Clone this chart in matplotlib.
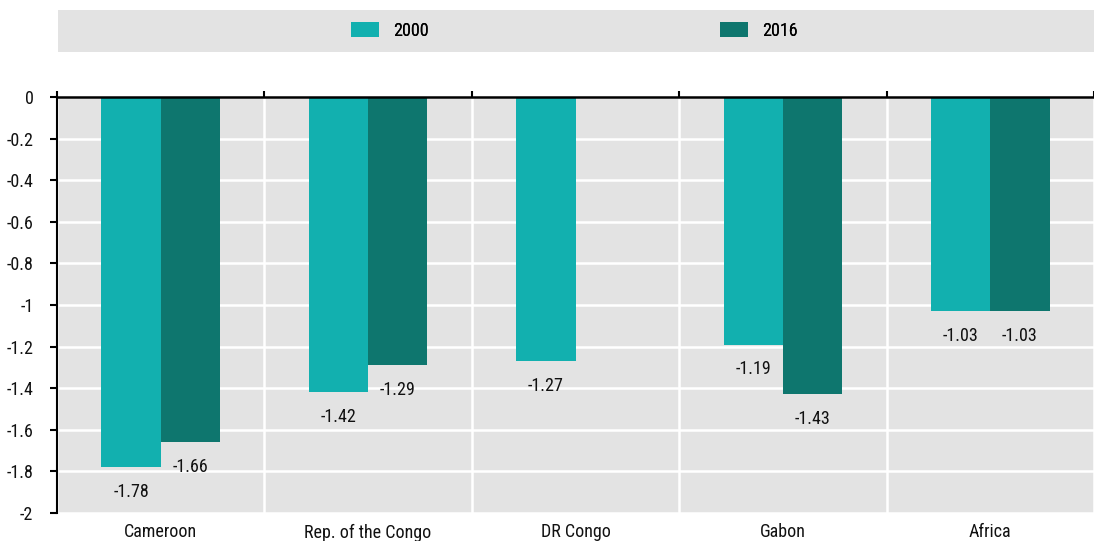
import matplotlib
matplotlib.use("Agg")
import matplotlib.pyplot as plt
import numpy as np
from matplotlib import font_manager
from matplotlib.patches import Rectangle

# narrow font if there is one, else condensed DejaVu
names = {f.name for f in font_manager.fontManager.ttflist}
fam = 'DejaVu Sans'
for cand in ['Liberation Sans Narrow', 'Roboto Condensed', 'Open Sans Condensed']:
    if cand in names:
        fam = cand
        break
plt.rcParams['font.family'] = [fam, 'DejaVu Sans']
if fam == 'DejaVu Sans':
    plt.rcParams['font.stretch'] = 'condensed'

# data
countries = ['Cameroon', 'Rep. of the Congo', 'DR Congo', 'Gabon', 'Africa']
v2000 = [-1.78, -1.42, -1.27, -1.19, -1.03]
v2016 = [-1.66, -1.29, np.nan, -1.43, -1.03]
years = ['2000', '2016']
colors = ['#12B0AF', '#0E766E']
fs = 13

fig = plt.figure(figsize=(10.94, 5.41), dpi=100)
ax = fig.add_axes([57 / 1094, 1 - 513 / 541, 1 - 57 / 1094, (513 - 97) / 541])
ax.set_facecolor('#E3E3E3')

x = np.arange(len(countries))
w = 0.286
bars = []
for vals, off, c, lab in [(v2000, -w / 2, colors[0], years[0]), (v2016, w / 2, colors[1], years[1])]:
    bars.append(ax.bar(x + off, vals, width=w, color=c, label=lab, zorder=3))
    for xi, v in zip(x, vals):
        if np.isnan(v):
            continue
        ax.annotate(f'{v:.2f}', (xi + off, v), xytext=(0, -11.5), textcoords='offset points',
                    ha='center', va='top', fontsize=fs, color='#111111')

ax.set_ylim(-2, 0)
ax.set_yticks(np.arange(-2, 0.01, 0.2))
ax.set_yticklabels(['-2', '-1.8', '-1.6', '-1.4', '-1.2', '-1', '-0.8', '-0.6', '-0.4', '-0.2', '0'])
ax.set_xlim(-0.5, 4.5 - 14 / 210)
ax.set_xticks(x)
ax.set_xticklabels(countries)
ax.set_xticks(np.arange(-0.5, 4.6, 1), minor=True)

ax.tick_params(axis='x', which='major', length=0, pad=7.5, labelsize=fs, colors='#111111')
ax.tick_params(axis='x', which='minor', bottom=False, top=True, length=4, width=1.5, direction='out')
ax.tick_params(axis='y', length=5, width=1.5, labelsize=fs, pad=12, labelcolor='#111111')

ax.grid(axis='y', color='white', linewidth=1.8, zorder=1)
ax.grid(axis='x', which='minor', color='white', linewidth=1.8, zorder=1)
ax.set_axisbelow(True)

for s in ['right', 'bottom']:
    ax.spines[s].set_visible(False)
ax.spines['top'].set_linewidth(1.8)
ax.spines['top'].set_zorder(5)
ax.spines['left'].set_linewidth(1.5)

# legend band
fig.patches.append(Rectangle((58 / 1094, 1 - 52 / 541), 1 - 58 / 1094, 42 / 541,
                             transform=fig.transFigure, facecolor='#E3E3E3', edgecolor='none'))
em = fs * 100 / 72
for b, lab, xpx in zip(bars, years, [351, 720]):
    leg = fig.legend([b], [lab], loc='center left', bbox_to_anchor=(xpx / 1094, 1 - 31 / 541),
                     frameon=False, fontsize=fs, borderpad=0, borderaxespad=0,
                     handlelength=28 / em, handleheight=16 / em, handletextpad=14 / em)
    fig.add_artist(leg)

fig.savefig('out.png', dpi=100)
